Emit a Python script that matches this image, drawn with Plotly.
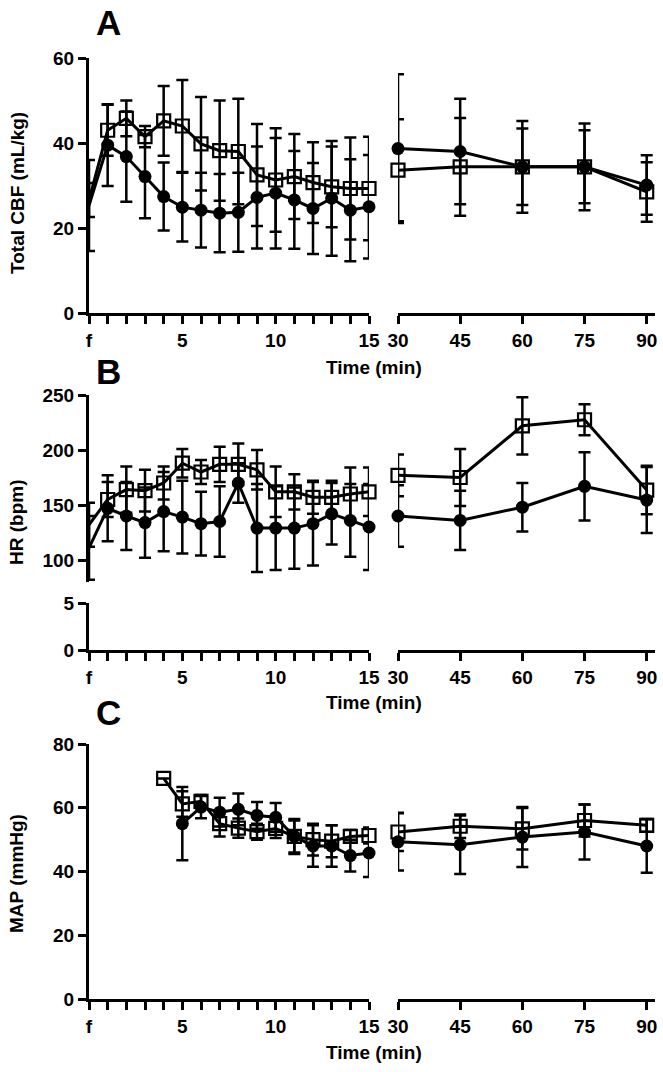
import plotly.graph_objects as go

# ---------------- data ----------------
t_left = list(range(0, 16))
t_right = [30, 45, 60, 75, 90]
left_ticktext = ["f", "", "", "", "", "5", "", "", "", "", "10", "", "", "", "", "15"]
right_ticks = [30, 45, 60, 75, 90]

# Panel A: Total CBF (mL/kg)
A_filled_left = [25.3, 39.5, 36.8, 32.1, 27.4, 24.9, 24.2, 23.5, 23.7, 27.2, 28.2, 26.6, 24.6, 27.0, 24.2, 25.0]
A_filled_left_err = [10.7, 9.6, 10.6, 9.8, 8.0, 8.1, 8.8, 9.2, 9.3, 12.0, 13.0, 11.5, 10.7, 13.5, 12.0, 12.2]
A_open_left = [26.6, 43.0, 45.8, 41.5, 45.2, 44.0, 39.8, 38.2, 38.0, 32.5, 31.3, 32.1, 30.7, 29.7, 29.3, 29.3]
A_open_left_err = [4.0, 6.0, 4.2, 2.5, 8.2, 10.8, 11.0, 11.8, 12.4, 12.0, 12.2, 10.0, 9.5, 9.5, 12.0, 12.2]
A_filled_right = [38.7, 38.0, 34.4, 34.4, 30.1]
A_filled_right_err = [17.5, 12.4, 10.8, 10.2, 7.0]
A_open_right = [33.6, 34.4, 34.4, 34.4, 28.5]
A_open_right_err = [12.0, 11.5, 9.0, 8.6, 7.0]

# Panel B: HR (bpm)
B_filled_left = [111, 147, 140, 134, 144, 139, 133, 135, 170, 129, 129, 129, 133, 142, 136, 130]
B_filled_left_err = [29, 30, 31, 32, 36, 33, 29, 32, 18, 40, 38, 37, 38, 28, 33, 39]
B_open_left = [132, 155, 164, 163, 170, 188, 180, 187, 187, 182, 162, 162, 157, 157, 160, 162]
B_open_left_err = [20, 16, 21, 19, 15, 13, 11, 16, 19, 18, 23, 16, 15, 15, 24, 22]
B_filled_right = [140, 136, 148, 167, 154.5]
B_filled_right_err = [28, 27, 22, 31, 30]
B_open_right = [177, 175, 222, 227.5, 163.6]
B_open_right_err = [19, 26, 26, 14, 22]

# Panel C: MAP (mmHg)
C_filled_left = [None, None, None, None, None, 55, 60.2, 58.6, 59.5, 57.6, 57, 51, 48, 48, 45, 45.8]
C_filled_left_err = [0, 0, 0, 0, 0, 11.5, 3.5, 4.5, 5, 4.2, 4.5, 5.5, 6.5, 6.5, 5, 7.5]
C_open_left = [None, None, None, None, 69.2, 61.2, 62, 55, 53.6, 52.5, 53.5, 51, 50, 49.5, 51, 51.3]
C_open_left_err = [0, 0, 0, 0, 0, 4, 2, 4, 3, 2.5, 3, 5, 5, 5, 2, 2.5]
C_filled_right = [49.3, 48.4, 50.8, 52.4, 48.0]
C_filled_right_err = [9, 9.2, 9.4, 8.6, 8.4]
C_open_right = [52.4, 54.2, 53.4, 56, 54.5]
C_open_right_err = [6, 3.7, 6.5, 5, 2]

# ---------------- figure ----------------
W, H = 663, 1072
FONT = "Liberation Sans, Arial, Helvetica, sans-serif"


def px_x(p):
    return p / W


def px_y(p):
    return 1 - p / H


fig = go.Figure()


def add_pair(x, y_open, e_open, y_filled, e_filled, xa, ya):
    # markers sitting on the y axis (time "f") are hidden behind the axis, as in the original
    sq = [0 if v == 0 else 13 for v in x]
    ci = [0 if v == 0 else 13 for v in x]
    fig.add_trace(go.Scatter(
        x=x, y=y_open, xaxis=xa, yaxis=ya, mode="lines+markers",
        line=dict(color="black", width=3),
        marker=dict(symbol="square-open", size=sq, color="black", opacity=1,
                    line=dict(width=2.2, color="black")),
        error_y=dict(type="data", array=e_open, visible=True, color="black", thickness=2.5, width=6),
        cliponaxis=False, showlegend=False, hoverinfo="skip"))
    fig.add_trace(go.Scatter(
        x=x, y=y_filled, xaxis=xa, yaxis=ya, mode="lines+markers",
        line=dict(color="black", width=3),
        marker=dict(symbol="circle", size=ci, color="black", opacity=1,
                    line=dict(width=0, color="black")),
        error_y=dict(type="data", array=e_filled, visible=True, color="black", thickness=2.5, width=6),
        cliponaxis=False, showlegend=False, hoverinfo="skip"))


add_pair(t_left, A_open_left, A_open_left_err, A_filled_left, A_filled_left_err, "x", "y")
add_pair(t_right, A_open_right, A_open_right_err, A_filled_right, A_filled_right_err, "x2", "y")
add_pair(t_left, B_open_left, B_open_left_err, B_filled_left, B_filled_left_err, "x3", "y3")
add_pair(t_right, B_open_right, B_open_right_err, B_filled_right, B_filled_right_err, "x4", "y3")
add_pair(t_left, C_open_left, C_open_left_err, C_filled_left, C_filled_left_err, "x5", "y5")
add_pair(t_right, C_open_right, C_open_right_err, C_filled_right, C_filled_right_err, "x6", "y5")

# empty traces so the lower (broken) y-axis segment of panel B gets its subplots
for xa in ["x3", "x4"]:
    fig.add_trace(go.Scatter(x=[], y=[], xaxis=xa, yaxis="y4", mode="markers",
                             showlegend=False, hoverinfo="skip"))

tickfont = dict(family=FONT, size=19, color="black", weight="bold")
axis_common = dict(showline=True, linecolor="black", linewidth=3, ticks="outside",
                   ticklen=8, tickwidth=3, tickcolor="black", showgrid=False,
                   zeroline=False, tickfont=tickfont, fixedrange=True, automargin=False)

left_dom = [px_x(89), px_x(369)]
right_dom = [px_x(398), px_x(655)]


def xleft(anchor):
    return dict(axis_common, domain=left_dom, range=[0, 15], anchor=anchor,
                tickmode="array", tickvals=t_left, ticktext=left_ticktext)


def xright(anchor):
    return dict(axis_common, domain=right_dom, range=[30, 92], anchor=anchor,
                tickmode="array", tickvals=right_ticks, ticktext=[str(v) for v in right_ticks])


fig.update_layout(
    template="none",
    width=W, height=H, margin=dict(l=0, r=0, t=0, b=0, pad=0, autoexpand=False),
    paper_bgcolor="white", plot_bgcolor="rgba(0,0,0,0)",
    xaxis=xleft("y"), xaxis2=xright("y"),
    yaxis=dict(axis_common, domain=[px_y(313), px_y(58)], range=[0, 60], anchor="x",
               tickvals=[0, 20, 40, 60]),
    xaxis3=xleft("y4"), xaxis4=xright("y4"),
    yaxis3=dict(axis_common, domain=[px_y(582), px_y(395)], range=[80, 250], anchor="x3",
                tickvals=[100, 150, 200, 250]),
    yaxis4=dict(axis_common, domain=[px_y(650), px_y(603)], range=[0, 5], anchor="x3",
                tickvals=[0, 5]),
    xaxis5=xleft("y5"), xaxis6=xright("y5"),
    yaxis5=dict(axis_common, domain=[px_y(999), px_y(744)], range=[0, 80], anchor="x5",
                tickvals=[0, 20, 40, 60, 80]),
)

# panel letters
for letter, cy in [("A", 22), ("B", 372), ("C", 712)]:
    fig.add_annotation(x=px_x(108), y=px_y(cy), xref="paper", yref="paper",
                       text=letter, showarrow=False, xanchor="center", yanchor="middle",
                       font=dict(family=FONT, size=35, color="black", weight="bold"))

# x-axis titles
for cy in [367, 702, 1052]:
    fig.add_annotation(x=px_x(374), y=px_y(cy), xref="paper", yref="paper",
                       text="Time (min)", showarrow=False, xanchor="center", yanchor="middle",
                       font=dict(family=FONT, size=19, color="black", weight="bold"))

# y-axis titles
for txt, cx, cy in [("Total CBF (mL/kg)", 18, 193), ("HR (bpm)", 16, 523), ("MAP (mmHg)", 16, 874)]:
    fig.add_annotation(x=px_x(cx), y=px_y(cy), xref="paper", yref="paper",
                       text=txt, showarrow=False, textangle=-90, xanchor="center", yanchor="middle",
                       font=dict(family=FONT, size=19, color="black", weight="bold"))

fig.write_html("out.html", config={"displayModeBar": False},
               post_script="document.body.style.margin='0px';document.body.style.overflow='hidden';")
